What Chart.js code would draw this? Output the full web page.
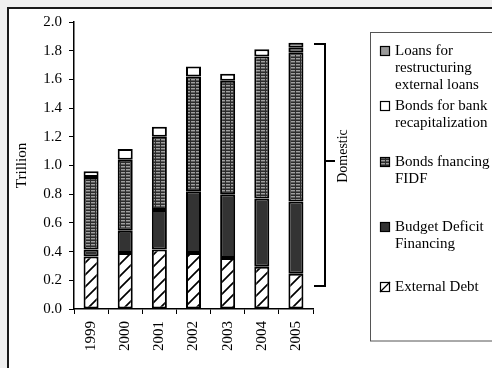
<!DOCTYPE html>
<html>
<head>
<meta charset="utf-8">
<script src="https://cdn.jsdelivr.net/npm/chart.js@4.4.0/dist/chart.umd.min.js"></script>
<style>
  html, body { margin: 0; padding: 0; background: #f0f0f0; }
  #wrap { position: relative; width: 492px; height: 368px; overflow: hidden; }
  canvas { position: absolute; left: 0; top: 0; }
</style>
</head>
<body>
<div id="wrap"><canvas id="debtChart" width="492" height="368"></canvas></div>
<script>
var years = ['1999', '2000', '2001', '2002', '2003', '2004', '2005'];
var externalDebt = [0.365, 0.39, 0.415, 0.39, 0.355, 0.295, 0.245];
var budgetDeficit = [0.05, 0.155, 0.275, 0.43, 0.445, 0.475, 0.505];
var fidfBonds = [0.505, 0.495, 0.51, 0.80, 0.79, 0.99, 1.04];
var recapBonds = [0.04, 0.075, 0.07, 0.07, 0.05, 0.05, 0.03];
var restructuringLoans = [null, null, null, null, null, null, 0.035];

var serif = '"Liberation Serif", "Times New Roman", serif';

// white fill with "/" hatching
function makeHatch() {
    var c = document.createElement('canvas');
    c.width = 12; c.height = 12;
    var g = c.getContext('2d');
    g.fillStyle = '#fff';
    g.fillRect(0, 0, 12, 12);
    g.strokeStyle = '#000';
    g.lineWidth = 1.7;
    g.beginPath();
    g.moveTo(-1, 13); g.lineTo(13, -1);
    g.moveTo(-7, 7); g.lineTo(7, -7);
    g.moveTo(5, 19); g.lineTo(19, 5);
    g.stroke();
    return g.createPattern(c, 'repeat');
}

// dark grey horizontal brick texture
function makeBrick() {
    var c = document.createElement('canvas');
    c.width = 5; c.height = 3;
    var g = c.getContext('2d');
    g.fillStyle = '#a0a0a0';
    g.fillRect(0, 0, 5, 3);
    g.fillStyle = '#5e5e5e';
    g.fillRect(0, 2, 5, 1);
    g.fillStyle = '#2c2c2c';
    g.fillRect(0, 0, 5, 1);
    g.fillRect(0, 0, 1, 3);
    return g.createPattern(c, 'repeat');
}

var ctx = document.getElementById('debtChart').getContext('2d');
var hatch = makeHatch();
var brick = makeBrick();

var legendItems = [
    { lines: ['Loans for', 'restructuring', 'external loans'], fill: '#999999', y: 51 },
    { lines: ['Bonds for bank', 'recapitalization'], fill: '#ffffff', y: 106 },
    { lines: ['Bonds fnancing', 'FIDF'], fill: brick, y: 162 },
    { lines: ['Budget Deficit', 'Financing'], fill: '#333333', y: 227 },
    { lines: ['External Debt'], fill: 'hatch', y: 287 }
];

var framePlugin = {
    id: 'frame',
    beforeDraw: function (chart) {
        var c = chart.ctx;
        c.save();
        c.fillStyle = '#f0f0f0';
        c.fillRect(0, 0, chart.width, chart.height);
        c.fillStyle = '#fff';
        c.fillRect(8, 8, chart.width, chart.height);
        c.strokeStyle = '#1a1a1a';
        c.lineWidth = 2;
        c.strokeRect(8, 8, chart.width + 10, chart.height + 10);
        c.restore();
    },
    afterDraw: function (chart) {
        var c = chart.ctx;
        var y = chart.scales.y;
        var top = Math.round(y.getPixelForValue(1.845));
        var bottom = Math.round(y.getPixelForValue(0.16));
        c.save();

        // bracket marking the domestic part
        c.strokeStyle = '#000';
        c.lineWidth = 2;
        c.beginPath();
        c.moveTo(314, top); c.lineTo(325, top);
        c.lineTo(325, bottom); c.lineTo(314, bottom);
        c.moveTo(325, 161); c.lineTo(335, 161);
        c.stroke();
        c.fillStyle = '#000';
        c.font = '14px ' + serif;
        c.textAlign = 'center';
        c.textBaseline = 'middle';
        c.translate(343, 156);
        c.rotate(-Math.PI / 2);
        c.fillText('Domestic', 0, 0);
        c.setTransform(1, 0, 0, 1, 0, 0);

        // legend box
        c.strokeStyle = '#555';
        c.lineWidth = 1;
        c.strokeRect(370.5, 32.5, 200, 308.5);
        c.font = '15px ' + serif;
        c.textAlign = 'left';
        legendItems.forEach(function (item) {
            var sy = item.y - 5;
            c.fillStyle = item.fill === 'hatch' ? '#fff' : item.fill;
            c.fillRect(380, sy, 10, 10);
            c.strokeStyle = '#000';
            c.lineWidth = 1.2;
            if (item.fill === 'hatch') {
                c.beginPath();
                c.moveTo(380, sy + 10); c.lineTo(390, sy);
                c.stroke();
            }
            c.strokeRect(380.5, sy + 0.5, 9, 9);
            c.fillStyle = '#000';
            item.lines.forEach(function (t, i) {
                c.fillText(t, 395, item.y + i * 17);
            });
        });
        c.restore();
    }
};

var tickFont = { family: serif, size: 15 };

var chart = new Chart(ctx, {
    type: 'bar',
    data: {
        labels: years,
        datasets: [
            { label: 'External Debt', data: externalDebt, backgroundColor: hatch },
            { label: 'Budget Deficit Financing', data: budgetDeficit, backgroundColor: '#333333' },
            { label: 'Bonds fnancing FIDF', data: fidfBonds, backgroundColor: brick },
            { label: 'Bonds for bank recapitalization', data: recapBonds, backgroundColor: '#ffffff' },
            { label: 'Loans for restructuring external loans', data: restructuringLoans, backgroundColor: '#999999' }
        ]
    },
    options: {
        responsive: false,
        animation: false,
        layout: { padding: { left: 0, top: 22, right: 179, bottom: 0 } },
        datasets: {
            bar: {
                borderColor: '#000',
                borderWidth: 2,
                borderSkipped: false,
                categoryPercentage: 1,
                barPercentage: 0.44
            }
        },
        plugins: {
            legend: { display: false },
            tooltip: { enabled: false }
        },
        scales: {
            x: {
                stacked: true,
                grid: { drawOnChartArea: false, drawTicks: true, tickLength: 5, color: '#000', offset: true },
                border: { color: '#000', width: 1.5 },
                ticks: { minRotation: 90, maxRotation: 90, padding: 7, color: '#000', font: tickFont },
                afterFit: function (s) { s.height = 59; }
            },
            y: {
                stacked: true,
                min: 0,
                max: 2,
                grid: { drawOnChartArea: false, drawTicks: true, tickLength: 5, color: '#000' },
                border: { color: '#000', width: 1.5 },
                ticks: {
                    stepSize: 0.2,
                    padding: 7,
                    color: '#000',
                    font: tickFont,
                    callback: function (v) { return v.toFixed(1); }
                },
                title: {
                    display: true,
                    text: 'Trillion',
                    color: '#000',
                    font: { family: serif, size: 15 },
                    padding: { top: 13, bottom: 0 }
                },
                afterFit: function (s) { s.width = 74; }
            }
        }
    },
    plugins: [framePlugin]
});
</script>
</body>
</html>
